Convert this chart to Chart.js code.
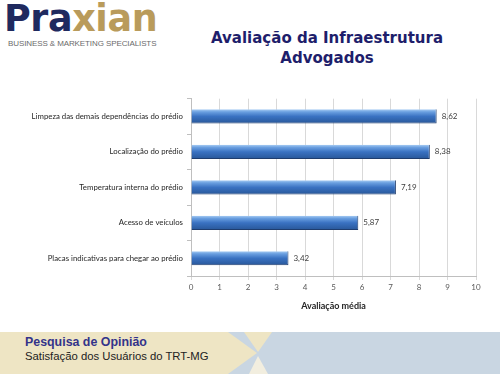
<!DOCTYPE html>
<html>
<head>
<meta charset="utf-8">
<script src="https://cdn.jsdelivr.net/npm/chart.js@4/dist/chart.umd.min.js"></script>
<style>
  body { margin: 0; width: 500px; height: 374px; background: #fff; position: relative; overflow: hidden; font-family: 'Liberation Sans', Arial, sans-serif; }
  .logo { position: absolute; left: 4px; top: -3px; font-family: 'DejaVu Sans', sans-serif; font-weight: bold; font-size: 36.5px; letter-spacing: -0.4px; }
  .logo .a { color: #1f2a5f; }
  .logo .b { color: #b99b5b; }
  .tag { position: absolute; left: 8px; top: 39px; font-size: 8px; color: #6b6b6b; letter-spacing: -0.1px; }
  .title { position: absolute; left: 177px; width: 300px; top: 28px; text-align: center; font-family: 'DejaVu Sans', sans-serif; font-weight: bold; font-size: 15px; line-height: 20px; color: #1e1e6b; }
  #band { position: absolute; left: 0; top: 332px; }
  .f1 { position: absolute; left: 25px; top: 335px; font-weight: bold; font-size: 12.4px; color: #33338a; }
  .f2 { position: absolute; left: 25px; top: 350px; font-size: 11.3px; color: #222; }
  #chart { position: absolute; left: 0; top: 90px; }
</style>
</head>
<body>
<div class="logo"><span class="a">Pra</span><span class="b">xian</span></div>
<div class="tag">BUSINESS &amp; MARKETING SPECIALISTS</div>
<div class="title">Avaliação da Infraestrutura<br>Advogados</div>

<svg id="band" width="500" height="42">
  <rect x="0" y="0" width="500" height="42" fill="#c9d6e2"/>
  <polygon points="0,0 228,0 257,21 228,42 0,42" fill="#eee5c4"/>
  <polygon points="244,0 272,0 258,20" fill="#eee5c4"/>
  <polygon points="249,42 258,24 268,42" fill="#f2eedf"/>
</svg>
<div class="f1">Pesquisa de Opinião</div>
<div class="f2">Satisfação dos Usuários do TRT-MG</div>

<canvas id="chart" width="500" height="225"></canvas>

<script>
const categories = [
  'Limpeza das demais dependências do prédio',
  'Localização do prédio',
  'Temperatura interna do prédio',
  'Acesso de veículos',
  'Placas indicativas para chegar ao prédio'
];
const values = [8.62, 8.38, 7.19, 5.87, 3.42];
const axisTitle = 'Avaliação média';

const labelFont = "Lato, 'Liberation Sans', sans-serif";

// gradient per bar, built from the y scale position
function barFill(ctx) {
  const chart = ctx.chart;
  if (!chart.chartArea || !chart.scales.y) return '#3b73c2';
  const y = chart.scales.y.getPixelForValue(ctx.dataIndex);
  const g = chart.ctx.createLinearGradient(0, y - 7, 0, y + 7);
  g.addColorStop(0, '#a6cbf3');
  g.addColorStop(0.18, '#6a9fe0');
  g.addColorStop(0.5, '#3a72c2');
  g.addColorStop(1, '#285799');
  return g;
}

const valueLabels = {
  id: 'valueLabels',
  afterDatasetsDraw(chart) {
    const ctx = chart.ctx;
    const meta = chart.getDatasetMeta(0);
    ctx.save();
    ctx.font = '8px ' + labelFont;
    ctx.fillStyle = '#404040';
    ctx.textBaseline = 'middle';
    meta.data.forEach(function(bar, i) {
      ctx.fillText(values[i].toFixed(2).replace('.', ','), bar.x + 5, bar.y);
    });
    ctx.restore();
  }
};

new Chart(document.getElementById('chart'), {
  type: 'bar',
  data: {
    labels: categories,
    datasets: [{
      data: values,
      backgroundColor: barFill,
      borderColor: '#1f3d6e',
      borderWidth: { top: 0, right: 1, bottom: 1, left: 0 },
      borderSkipped: false,
      barPercentage: 0.8,
      categoryPercentage: 0.5
    }]
  },
  options: {
    indexAxis: 'y',
    responsive: false,
    animation: false,
    layout: { padding: { left: 0, right: 24, top: 8, bottom: 0 } },
    plugins: { legend: { display: false }, tooltip: { enabled: false } },
    scales: {
      x: {
        min: 0,
        max: 10,
        ticks: { stepSize: 1, padding: 3, color: '#595959', font: { size: 8, family: labelFont } },
        grid: { color: '#d9d9d9', tickLength: 4 },
        border: { color: '#bfbfbf' },
        title: { display: true, text: axisTitle, color: '#262626', padding: { top: 4 }, font: { size: 9, weight: 'bold', family: labelFont } },
        afterFit(scale) { scale.height = 39; }
      },
      y: {
        ticks: { padding: 4, color: '#262626', font: { size: 7.8, family: labelFont } },
        grid: { drawOnChartArea: false, tickLength: 4, color: '#bfbfbf' },
        border: { color: '#bfbfbf' },
        afterFit(scale) { scale.width = 191; }
      }
    }
  },
  plugins: [valueLabels]
});
</script>
</body>
</html>
